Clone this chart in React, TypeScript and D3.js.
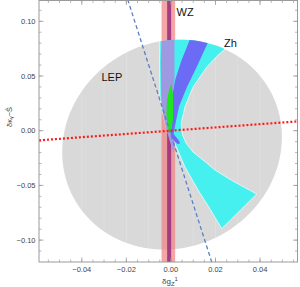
import React from "react";
import * as d3 from "d3";

const W = 300;
const H = 287;

// axis domains and ticks
const xDomain = [-0.0592, 0.0568];
const yDomain = [-0.12, 0.12];
const xMajorTicks = [-0.04, -0.02, 0, 0.02, 0.04];
const yMajorTicks = [-0.1, -0.05, 0, 0.05, 0.1];
const xMinorTicks = d3.range(-0.055, 0.0561, 0.005);
const yMinorTicks = d3.range(-0.11, 0.1101, 0.01);
const gridX = d3.range(-0.05, 0.0501, 0.01);

// LEP ellipse (center + conjugate semi-axes, data units)
const lepCenter = [0.0005, -0.0127];
const lepAxisA = [0.0493, 0.0069];
const lepAxisB = [0, 0.0957];

// WZ bands (dg_Z^1 ranges)
const wzOuter = [-0.0042, 0.0019];
const wzInner = [-0.0017, 0.0001];

// Zh 95% region boundary
const zh95 = [
  [-0.0049, 0.092], [-0.0051, 0.0619], [-0.0049, 0.0308], [-0.0037, 0.0161],
  [-0.0022, 0.0033], [0.0001, -0.0058], [0.0019, -0.0122], [0.0063, -0.0332],
  [0.0122, -0.0543], [0.0176, -0.0717], [0.0228, -0.0895], [0.0385, -0.0579],
  [0.0274, -0.0456], [0.0198, -0.036], [0.0144, -0.0268], [0.0099, -0.0195],
  [0.0068, -0.0113], [0.0052, -0.004], [0.0046, 0.007], [0.0064, 0.0225],
  [0.0099, 0.0399], [0.0161, 0.0582], [0.0212, 0.0692], [0.0265, 0.0783],
  [0.0288, 0.092],
];

// Zh 68% region, right branch
const zh68 = [
  [0.0102, 0.092], [0.0192, 0.092], [0.0116, 0.0585], [0.0072, 0.0399],
  [0.0037, 0.0225], [0.0019, 0.0052], [0.0012, -0.0031], [0.0037, -0.0095],
  [0.0041, -0.0117], [0.003, -0.0122], [0.0005, -0.0076], [-0.0004, 0.0006],
  [-0.0002, 0.0235], [0.0019, 0.0463], [0.0048, 0.0646],
];

// overlap of Zh 68% left branch with WZ band
const zhWz = [
  [-0.0042, 0.092], [0.0016, 0.092], [0.0016, 0.0481], [0.0007, 0.0326],
  [-0.0002, 0.0235], [-0.0004, 0.0006], [0.0005, -0.0076], [0.0014, -0.0086],
  [0.0016, -0.0158], [0.0012, -0.0204], [-0.0004, -0.0104], [-0.0022, 0.0024],
  [-0.0035, 0.0143], [-0.0044, 0.0308], [-0.0045, 0.0619],
];

// combined region
const combined = [
  [0.0003, 0.0436], [0.001, 0.0308], [0.001, 0.0125], [0.0003, 0.0006],
  [-0.0004, -0.0031], [-0.0013, 0.0024], [-0.002, 0.0143], [-0.0018, 0.028],
  [-0.0006, 0.039],
];

// reference lines
const redLine = [[-0.0592, -0.0088], [0.0568, 0.0085]];
const blueLine = [[-0.0194, 0.12], [0.0183, -0.12]];

const x = d3.scaleLinear().domain(xDomain).range([39, 297.5]);
const y = d3.scaleLinear().domain(yDomain).range([262, -0.6]);

const fmt = d3.format(".2f");

export default function App() {
  const closed = d3
    .line<number[]>()
    .x((d) => x(d[0]))
    .y((d) => y(d[1]))
    .curve(d3.curveLinearClosed);
  const open = d3
    .line<number[]>()
    .x((d) => x(d[0]))
    .y((d) => y(d[1]));

  const lepPts = d3.range(0, 360, 3).map((deg) => {
    const t = (deg * Math.PI) / 180;
    return [
      lepCenter[0] + lepAxisA[0] * Math.cos(t) + lepAxisB[0] * Math.sin(t),
      lepCenter[1] + lepAxisA[1] * Math.cos(t) + lepAxisB[1] * Math.sin(t),
    ];
  });
  const lepPath = closed(lepPts) || "";

  const left = x(xDomain[0]);
  const right = x(xDomain[1]);
  const top = 0.5;
  const bottom = y(yDomain[0]);
  const frameColor = "#9a9a9a";
  const font = "'Liberation Sans', Arial, sans-serif";

  return (
    <svg width={W} height={H} style={{ position: "absolute", left: 0, top: 0 }}>
      <defs>
        <clipPath id="plotClip">
          <rect x={left} y={0} width={right - left} height={bottom} />
        </clipPath>
        <clipPath id="lepClip">
          <path d={lepPath} />
        </clipPath>
      </defs>
      <rect x={0} y={0} width={W} height={H} fill="#fff" />
      <g clipPath="url(#plotClip)">
        <path d={lepPath} fill="#d9d9d9" />
        <g clipPath="url(#lepClip)">
          {gridX.map((v, i) => (
            <line key={i} x1={x(v)} x2={x(v)} y1={0} y2={bottom} stroke="#fff" strokeOpacity={0.25} strokeWidth={0.7} />
          ))}
        </g>
        <rect x={x(wzOuter[0])} width={x(wzOuter[1]) - x(wzOuter[0])} y={0} height={bottom} fill="#f08080" fillOpacity={0.7} />
        <rect x={x(wzInner[0])} width={x(wzInner[1]) - x(wzInner[0])} y={0} height={bottom} fill="#8b1a7a" fillOpacity={0.75} />
        <g clipPath="url(#lepClip)">
          <path d={closed(zh95) || ""} fill="#45f0ee" stroke="#fff" strokeWidth={0.8} strokeOpacity={0.85} />
          <path d={closed(zh68) || ""} fill="#6b6bf6" />
          <path d={closed(zhWz) || ""} fill="#9f99e2" />
          <path d={closed(combined) || ""} fill="#1ee61e" />
        </g>
        <path d={open(blueLine) || ""} fill="none" stroke="#5b7fc0" strokeWidth={1.3} strokeDasharray="4,2.8" />
        <path d={open(redLine) || ""} fill="none" stroke="#ff1a1a" strokeWidth={2.2} strokeDasharray="2,2" />
      </g>

      {/* frame */}
      <rect x={left} y={top} width={right - left} height={bottom - top} fill="none" stroke={frameColor} strokeWidth={1} />
      {/* ticks */}
      {yMinorTicks.map((v, i) => (
        <g key={"ym" + i}>
          <line x1={left} x2={left + 2.5} y1={y(v)} y2={y(v)} stroke={frameColor} strokeWidth={0.7} />
          <line x1={right} x2={right - 2.5} y1={y(v)} y2={y(v)} stroke={frameColor} strokeWidth={0.7} />
        </g>
      ))}
      {yMajorTicks.map((v, i) => (
        <g key={"yM" + i}>
          <line x1={left} x2={left + 4.5} y1={y(v)} y2={y(v)} stroke={frameColor} strokeWidth={0.8} />
          <line x1={right} x2={right - 4.5} y1={y(v)} y2={y(v)} stroke={frameColor} strokeWidth={0.8} />
          <text x={left - 3.5} y={y(v) + 2.6} textAnchor="end" fontSize={7.5} fontFamily={font} fill="#444">
            {fmt(v)}
          </text>
        </g>
      ))}
      {xMinorTicks.map((v, i) => (
        <g key={"xm" + i}>
          <line x1={x(v)} x2={x(v)} y1={bottom} y2={bottom - 2.5} stroke={frameColor} strokeWidth={0.7} />
          <line x1={x(v)} x2={x(v)} y1={top} y2={top + 2.5} stroke={frameColor} strokeWidth={0.7} />
        </g>
      ))}
      {xMajorTicks.map((v, i) => (
        <g key={"xM" + i}>
          <line x1={x(v)} x2={x(v)} y1={bottom} y2={bottom - 4.5} stroke={frameColor} strokeWidth={0.8} />
          <line x1={x(v)} x2={x(v)} y1={top} y2={top + 4.5} stroke={frameColor} strokeWidth={0.8} />
          <text x={x(v)} y={bottom + 10} textAnchor="middle" fontSize={7.5} fontFamily={font} fill="#444">
            {fmt(v)}
          </text>
        </g>
      ))}

      {/* axis labels */}
      <text x={162} y={284} fontSize={8} fontFamily={font} fill="#444">
        δg<tspan fontSize={6} dy={1.5}>Z</tspan>
        <tspan fontSize={6} dy={-4.5}>1</tspan>
      </text>
      <text transform="translate(11.5,127) rotate(-90)" fontSize={7.5} fontFamily={font} fill="#444">
        δκ<tspan fontSize={5.5} dy={1.5}>γ</tspan>
        <tspan dy={-1.5}>−Ŝ</tspan>
      </text>

      {/* region labels */}
      <text x={101.5} y={81} fontSize={11} fontFamily={font} fill="#111">LEP</text>
      <text x={176.5} y={15.5} fontSize={11} fontFamily={font} fill="#111">WZ</text>
      <text x={224} y={47.3} fontSize={11} fontFamily={font} fill="#111">Zh</text>
    </svg>
  );
}
